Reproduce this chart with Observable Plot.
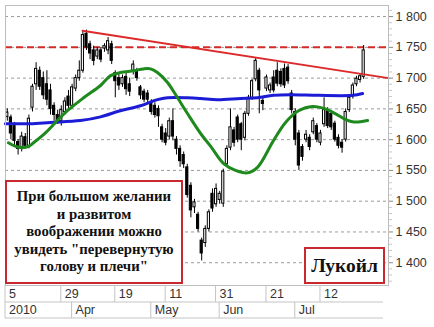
<!DOCTYPE html>
<html><head><meta charset="utf-8">
<script src="https://cdn.jsdelivr.net/npm/d3@7"></script>
<script src="https://cdn.jsdelivr.net/npm/@observablehq/plot@0.6"></script>
<style>
body{margin:0;background:#fff;}
#wrap{position:relative;width:434px;height:327px;overflow:hidden;background:#fff;}
.box{position:absolute;border:2px solid #c8282e;background:#fff;box-sizing:border-box;font-family:"Liberation Serif","Times New Roman",serif;font-weight:bold;color:#111;text-align:center;white-space:nowrap;}
#b1{left:5px;top:180px;width:178px;height:104px;font-size:14.8px;line-height:17.5px;padding-top:6px;}
#b2{left:304px;top:247px;width:81px;height:37px;font-size:19.5px;line-height:33px;}
</style></head><body><div id="wrap"></div>
<script>
// trading days (index order)
const dates = ["2010-03-05","2010-03-09","2010-03-10","2010-03-11","2010-03-12","2010-03-15","2010-03-16","2010-03-17","2010-03-18","2010-03-19",
"2010-03-22","2010-03-23","2010-03-24","2010-03-25","2010-03-26","2010-03-29","2010-03-30","2010-03-31","2010-04-01","2010-04-02",
"2010-04-05","2010-04-06","2010-04-07","2010-04-08","2010-04-09","2010-04-12","2010-04-13","2010-04-14","2010-04-15","2010-04-16",
"2010-04-19","2010-04-20","2010-04-21","2010-04-22","2010-04-23","2010-04-26","2010-04-27","2010-04-28","2010-04-29","2010-04-30",
"2010-05-04","2010-05-05","2010-05-06","2010-05-07","2010-05-11","2010-05-12","2010-05-13","2010-05-14","2010-05-17","2010-05-18",
"2010-05-19","2010-05-20","2010-05-21","2010-05-24","2010-05-25","2010-05-26","2010-05-27","2010-05-28","2010-05-31","2010-06-01",
"2010-06-02","2010-06-03","2010-06-04","2010-06-07","2010-06-08","2010-06-09","2010-06-10","2010-06-11","2010-06-15","2010-06-16",
"2010-06-17","2010-06-18","2010-06-21","2010-06-22","2010-06-23","2010-06-24","2010-06-25","2010-06-28","2010-06-29","2010-06-30",
"2010-07-01","2010-07-02","2010-07-05","2010-07-06","2010-07-07","2010-07-08","2010-07-09","2010-07-12","2010-07-13","2010-07-14",
"2010-07-15","2010-07-16","2010-07-19","2010-07-20","2010-07-21","2010-07-22","2010-07-23","2010-07-26","2010-07-27","2010-07-28"];
const open = [1637,1636,1622,1596,1588,1604,1590,1652,1690,1712, 1700,1690,1680,1655,1640,1630,1645,1670,1655,1683,
1700,1712,1772,1755,1745,1735,1745,1748,1745,1755, 1708,1700,1690,1702,1690,1712,1712,1685,1678,1675,
1660,1655,1650,1620,1610,1605,1630,1600,1585,1575, 1555,1525,1490,1478,1436,1432,1455,1512,1495,1502,
1496,1560,1587,1615,1636,1625,1603,1642,1668,1698, 1712,1663,1683,1680,1701,1712,1710,1715,1717,1675,
1645,1610,1588,1600,1603,1612,1622,1595,1625,1647, 1642,1626,1603,1595,1600,1648,1670,1690,1697,1702];
const high = [1650,1640,1628,1600,1612,1610,1640,1690,1725,1718, 1710,1712,1690,1660,1648,1655,1668,1680,1690,1705,
1728,1777,1778,1760,1752,1750,1750,1756,1766,1760, 1712,1706,1705,1708,1700,1728,1716,1688,1682,1680,
1665,1660,1655,1625,1618,1635,1650,1605,1590,1580, 1560,1530,1503,1482,1440,1460,1486,1520,1528,1516,
1552,1590,1650,1620,1640,1628,1646,1672,1698,1732, 1716,1668,1705,1692,1712,1725,1715,1723,1722,1680,
1650,1615,1592,1615,1608,1635,1626,1615,1668,1652, 1647,1630,1608,1600,1650,1672,1692,1703,1706,1753];
const low = [1630,1600,1590,1575,1580,1585,1585,1645,1680,1680, 1665,1655,1640,1630,1625,1622,1640,1650,1650,1678,
1695,1708,1745,1730,1720,1730,1725,1742,1738,1722, 1668,1680,1685,1672,1670,1705,1695,1665,1660,1660,
1640,1635,1620,1595,1590,1600,1598,1575,1555,1553, 1505,1473,1480,1450,1403,1425,1450,1482,1490,1495,
1490,1555,1582,1588,1595,1582,1598,1638,1664,1694, 1642,1647,1678,1675,1676,1686,1685,1683,1690,1642,
1590,1550,1565,1595,1582,1608,1595,1590,1620,1618, 1615,1596,1585,1578,1596,1644,1666,1686,1692,1698];
const close = [1644,1610,1598,1585,1605,1590,1634,1686,1715,1686, 1672,1665,1650,1640,1630,1648,1662,1655,1685,1700,
1712,1770,1750,1740,1728,1745,1730,1752,1760,1728, 1695,1688,1700,1682,1678,1722,1700,1672,1665,1665,
1645,1640,1638,1600,1595,1630,1605,1585,1565,1560, 1510,1485,1498,1455,1415,1455,1482,1488,1520,1512,
1548,1585,1620,1595,1600,1600,1642,1668,1695,1728, 1680,1658,1701,1688,1680,1691,1690,1688,1695,1648,
1600,1558,1572,1608,1588,1630,1600,1610,1648,1622, 1620,1600,1590,1587,1645,1668,1688,1699,1703,1745];

// moving averages: [trading-day index, price]
const greenMA = [[0.3,1595],[2.3,1589],[4.2,1587],[5.9,1589],[7.3,1595],[10.6,1611],[13.4,1628],[16.7,1647],[21.2,1668],
[25.9,1688],[28.7,1704],[31.4,1709],[35.1,1712],[37.8,1715],[39.8,1715],[41.7,1709],[44.5,1693],[47.3,1668],[50.1,1642],
[53.7,1610],[56.4,1590],[60.1,1561],[63.4,1550],[66.7,1546],[69.5,1555],[73.9,1598],[77.3,1628],[80.9,1647],[84.8,1654],
[88.4,1650],[91.2,1642],[93.9,1633],[95.9,1629],[98.1,1629],[100.1,1631]];
const blueMA = [[-0.5,1626],[6.4,1626],[12,1628],[20.3,1631],[25.9,1637],[31.4,1647],[37,1655],[41.7,1665],[44.5,1668],
[50.1,1668],[53.7,1667],[58.4,1665],[64.8,1667],[69.5,1668],[73.9,1672],[78.7,1673],[86.4,1672],[95.9,1672],[98.7,1675]];
const trend = [[20.9,1777],[105.9,1700]];
const resistance = 1750;

const yTicks = [1400,1450,1500,1550,1600,1650,1700,1750,1800];
const yLabels = ["1 400","1 450","1 500","1 550","1 600","1 650","1 700","1 750","1 800"];
const minorTicks = d3.range(1370, 1820, 10).filter(v => !yTicks.includes(v));
const dayTicks = ["2010-03-05","2010-03-29","2010-04-19","2010-05-11","2010-05-31","2010-06-21","2010-07-12"];
const dayLabels = ["5","29","19","11","31","21","12"];
const monthTicks = ["2010-03-05","2010-04-01","2010-05-04","2010-06-01","2010-07-01"];
const monthLabels = ["2010","Apr","May","Jun","Jul"];

(function draw() {
const candles = dates.map((d, i) => ({i, date: d, o: open[i], h: high[i], l: low[i], c: close[i]}));
const pt = a => a.map(([i, v]) => ({i, v}));

const plot = Plot.plot({
  width: 434, height: 327,
  marginLeft: 5, marginRight: 46, marginTop: 5, marginBottom: 42,
  x: {domain: [-0.5, 105.9], axis: null},
  y: {domain: [1363, 1818], axis: null},
  style: {fontFamily: "'Liberation Sans', Arial, sans-serif", fontSize: "12.5px", background: "white", color: "#333"},
  marks: [
    Plot.ruleY(yTicks, {stroke: "#9a9a9a", strokeDasharray: "3,3"}),
    Plot.ruleY([resistance], {stroke: "#d42a2a", strokeWidth: 2, strokeDasharray: "7,4"}),
    Plot.ruleX(candles, {x: "i", y1: "l", y2: "h", stroke: "#000", strokeWidth: 1}),
    Plot.rect(candles, {x1: d => d.i - 0.3, x2: d => d.i + 0.3, y1: "o", y2: "c",
      fill: d => d.c >= d.o ? "#fff" : "#000", stroke: "#000", strokeWidth: 1}),
    Plot.line(pt(trend), {x: "i", y: "v", stroke: "#dc2a2a", strokeWidth: 2}),
    Plot.line(pt(blueMA), {x: "i", y: "v", stroke: "#1c1cd6", strokeWidth: 3, curve: "catmull-rom"}),
    Plot.line(pt(greenMA), {x: "i", y: "v", stroke: "#1e8a1e", strokeWidth: 3, curve: "catmull-rom"}),
    Plot.frame({stroke: "#bdbdbd"}),
    Plot.axisY(minorTicks, {anchor: "right", tickSize: 3, stroke: "#c8c8c8", tickFormat: () => ""}),
    Plot.axisY(yTicks, {anchor: "right", tickSize: 4, tickPadding: 3, stroke: "#888", fill: "#333",
      tickFormat: d => yLabels[yTicks.indexOf(d)]})
  ]
});
const wrap = document.getElementById("wrap");
wrap.appendChild(plot);

// date table below the chart, positioned with the plot's x scale
const xs = plot.scale("x");
const svg = d3.select(plot);
const g = svg.append("g").attr("stroke", "#c4c4c4");
const yTop = 285, yMid = 302, yBot = 318, xLeft = 5, xRight = 383;
g.append("line").attr("x1", xLeft).attr("x2", xRight).attr("y1", yMid).attr("y2", yMid);
g.append("line").attr("x1", xLeft).attr("x2", xRight).attr("y1", yBot).attr("y2", yBot);
g.append("line").attr("x1", xLeft).attr("x2", xLeft).attr("y1", yTop).attr("y2", yBot);
const idx = d => dates.indexOf(d);
const tg = svg.append("g").attr("text-anchor", "start").attr("fill", "#333")
  .style("font", "12.5px 'Liberation Sans', Arial, sans-serif");
dayTicks.forEach((d, k) => {
  const X = xs.apply(idx(d));
  if (k > 0) g.append("line").attr("x1", X).attr("x2", X).attr("y1", yTop).attr("y2", yMid);
  tg.append("text").attr("x", k === 0 ? 9 : X + 4).attr("y", 298).text(dayLabels[k]);
});
monthTicks.forEach((d, k) => {
  const X = xs.apply(idx(d));
  if (k > 0) g.append("line").attr("x1", X).attr("x2", X).attr("y1", yMid).attr("y2", yBot);
  tg.append("text").attr("x", k === 0 ? 9 : X + 4).attr("y", 314).text(monthLabels[k]);
});

const b1 = document.createElement("div"); b1.className = "box"; b1.id = "b1";
b1.innerHTML = "При большом желании<br>и развитом<br>воображении можно<br>увидеть \"перевернутую<br>голову и плечи\"";
const b2 = document.createElement("div"); b2.className = "box"; b2.id = "b2";
b2.textContent = "Лукойл";
wrap.appendChild(b1); wrap.appendChild(b2);
})();
</script>
</body></html>
